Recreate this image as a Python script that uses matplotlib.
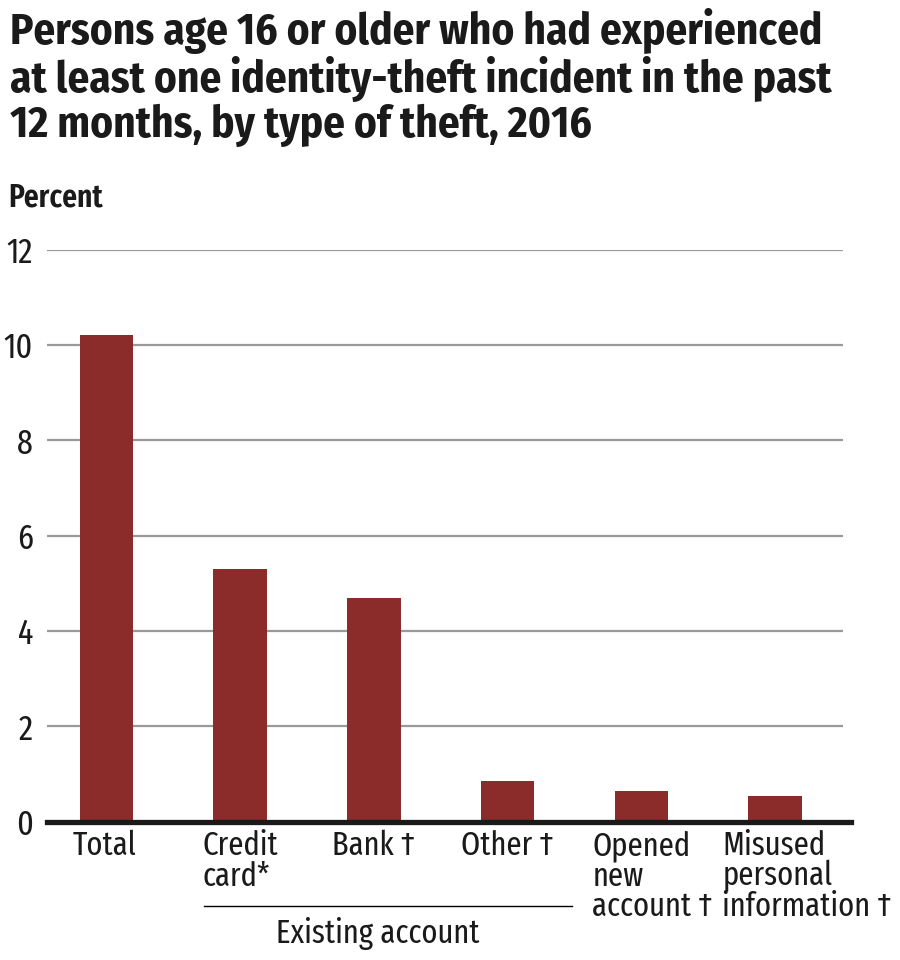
import matplotlib
matplotlib.use("Agg")
import matplotlib.pyplot as plt
import matplotlib.transforms as mtransforms
import numpy as np

plt.rcParams['font.family'] = ['Fira Sans Extra Condensed', 'DejaVu Sans']

categories = ["Total", "Credit\ncard*", "Bank \u2020", "Other \u2020",
              "Opened\nnew\naccount \u2020", "Misused\npersonal\ninformation \u2020"]
values = [10.2, 5.3, 4.7, 0.85, 0.65, 0.55]
yticks = [0, 2, 4, 6, 8, 10, 12]
title = ("Persons age 16 or older who had experienced\n"
         "at least one identity-theft incident in the past\n"
         "12 months, by type of theft, 2016")

bar_color = "#8b2b2a"
text_color = "#1a1a1a"

fig = plt.figure(figsize=(9, 9.6), dpi=100)
ax = fig.add_axes([0.052, 0.144, 0.885, 0.596])

x = np.arange(len(categories))
ax.bar(x, values, width=0.4, color=bar_color, zorder=3)

ax.set_xlim(-0.445, 5.51)
ax.set_ylim(0, 12)
ax.set_yticks(yticks)
ax.set_yticklabels([str(t) for t in yticks], fontsize=25, color=text_color)
for t in yticks[1:]:
    ax.axhline(t, color="#999999", lw=1.6, zorder=1)
ax.axhline(0, xmax=1.01, color="#1a1a1a", lw=3.8, zorder=4, clip_on=False)

for s in ax.spines.values():
    s.set_visible(False)
ax.tick_params(axis="y", length=0, pad=10)
ax.tick_params(axis="x", length=0, pad=6)
ax.set_xticks(x)
labels = ax.set_xticklabels(categories, fontsize=24, linespacing=0.92,
                            va="top", multialignment="left", color=text_color)
# the two right-most labels sit a little right of their bars
shift = [-2, 0, 0, 0, 11, 32]
for lab, dx in zip(labels, shift):
    lab.set_transform(lab.get_transform() +
                      mtransforms.ScaledTranslation(dx / 100, 0, fig.dpi_scale_trans))

# bracket under existing-account categories
trans = mtransforms.blended_transform_factory(ax.transData, ax.transAxes)
ax.plot([0.73, 3.48], [-0.148, -0.148], color="black", lw=1,
        transform=trans, clip_on=False)
ax.text(2.03, -0.166, "Existing account", transform=trans, ha="center",
        va="top", fontsize=24, color=text_color)

fig.text(0.011, 0.992, title, fontsize=31, fontweight="bold", va="top",
         ha="left", linespacing=1.06, color=text_color,
         family=['Fira Sans Condensed', 'DejaVu Sans'])
fig.text(0.009, 0.794, "Percent", fontsize=23, fontweight="semibold",
         va="center", ha="left", color=text_color)

fig.savefig("out.png", dpi=100)
